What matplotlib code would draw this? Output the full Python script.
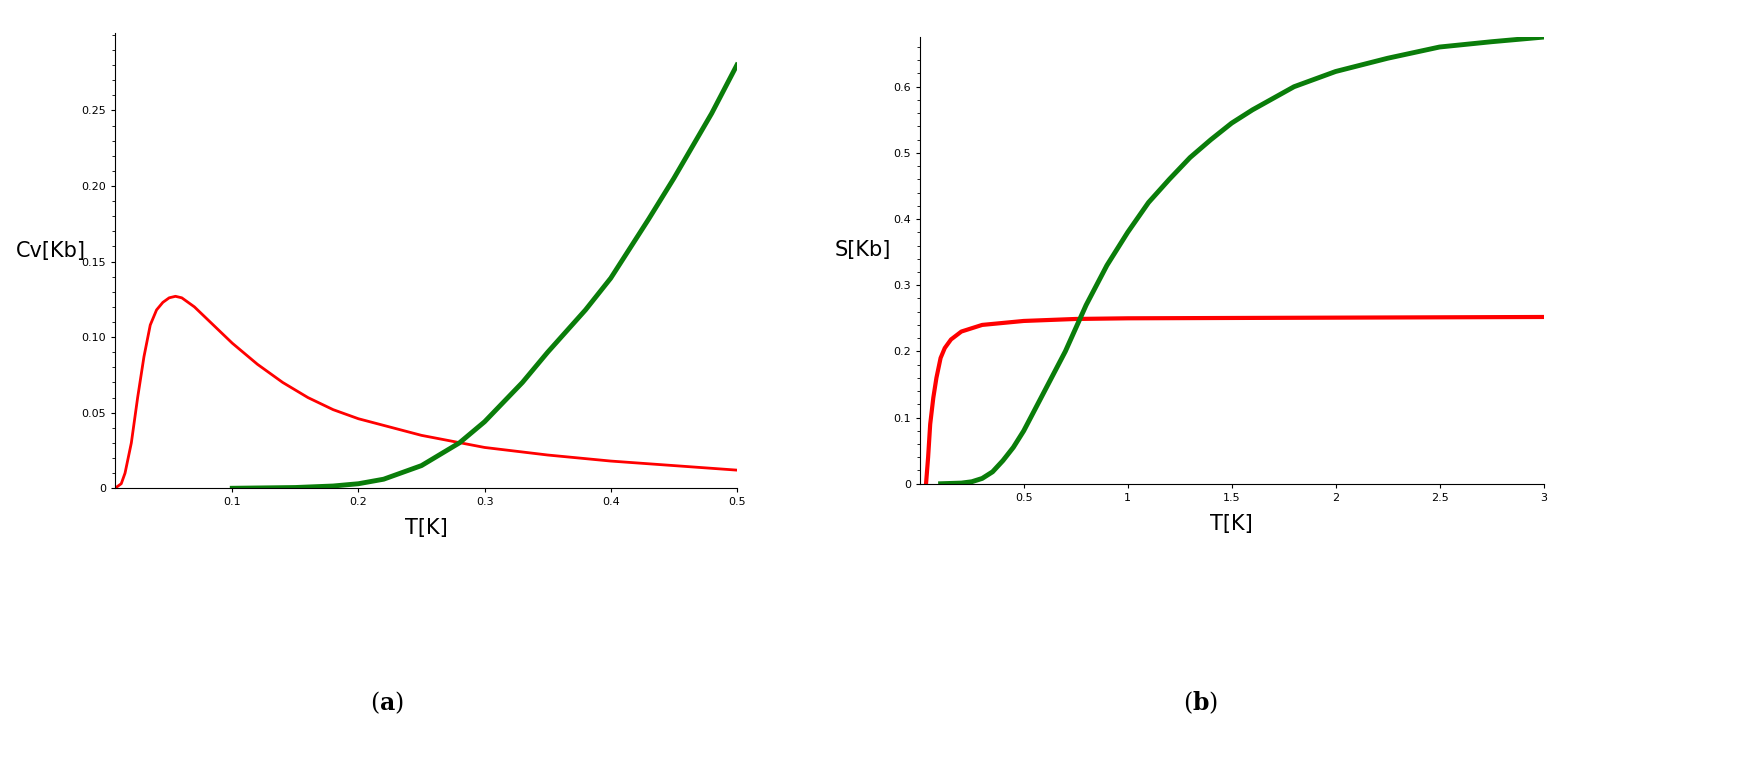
import matplotlib
matplotlib.use("Agg")
import matplotlib.pyplot as plt
from matplotlib.ticker import AutoMinorLocator
plt.rcParams['mathtext.fontset'] = 'dejavuserif'

cv_red_T = [0.007,0.012,0.015,0.02,0.025,0.03,0.035,0.04,0.045,0.05,0.055,0.06,0.07,0.08,0.1,0.12,0.14,0.16,0.18,0.2,0.25,0.3,0.35,0.4,0.45,0.5]
cv_red = [0,0.003,0.01,0.03,0.06,0.087,0.108,0.118,0.123,0.126,0.127,0.126,0.12,0.112,0.096,0.082,0.07,0.06,0.052,0.046,0.035,0.027,0.022,0.018,0.015,0.012]
cv_grn_T = [0.1,0.15,0.18,0.2,0.22,0.25,0.28,0.3,0.33,0.35,0.38,0.4,0.43,0.45,0.48,0.5]
cv_grn = [0,0.0005,0.0015,0.003,0.006,0.015,0.03,0.044,0.07,0.09,0.118,0.139,0.178,0.205,0.248,0.28]
s_red_T = [0.03,0.04,0.05,0.065,0.08,0.1,0.12,0.15,0.2,0.3,0.5,0.75,1,2,3]
s_red = [0,0.04,0.09,0.13,0.16,0.19,0.205,0.218,0.23,0.24,0.246,0.249,0.25,0.251,0.252]
s_grn_T = [0.1,0.2,0.25,0.3,0.35,0.4,0.45,0.5,0.6,0.7,0.8,0.9,1,1.1,1.2,1.3,1.4,1.5,1.6,1.8,2,2.25,2.5,2.75,3]
s_grn = [0,0.001,0.003,0.008,0.018,0.035,0.055,0.08,0.14,0.2,0.27,0.33,0.38,0.425,0.46,0.493,0.52,0.545,0.565,0.6,0.623,0.643,0.66,0.668,0.675]

fig = plt.figure(figsize=(17.52,7.57), dpi=100)
RED, GRN = '#ff0000', '#0a7d0a'

def style(ax):
    for s in ['top','right']:
        ax.spines[s].set_visible(False)
    ax.tick_params(labelsize=8, direction='out', length=3)
    ax.yaxis.set_minor_locator(AutoMinorLocator(5))
    ax.tick_params(which='minor', length=2)

ax1 = fig.add_axes([0.0656,0.355,0.355,0.601])
ax1.plot(cv_red_T, cv_red, color=RED, lw=2)
ax1.plot(cv_grn_T, cv_grn, color=GRN, lw=3.5)
ax1.set_xlim(0.007,0.5); ax1.set_ylim(0,0.301)
ax1.set_xticks([0.1,0.2,0.3,0.4,0.5]); ax1.set_xticklabels(['0.1','0.2','0.3','0.4','0.5'])
ax1.set_yticks([0,0.05,0.1,0.15,0.2,0.25]); ax1.set_yticklabels(['0','0.05','0.10','0.15','0.20','0.25'])
style(ax1)
ax1.set_xlabel('T[K]', fontsize=15, labelpad=8)
ax1.set_ylabel('Cv[Kb]', fontsize=15, rotation=0, labelpad=22)

ax2 = fig.add_axes([0.525,0.361,0.356,0.590])
ax2.plot(s_red_T, s_red, color=RED, lw=3)
ax2.plot(s_grn_T, s_grn, color=GRN, lw=3.5)
ax2.set_xlim(0,3); ax2.set_ylim(0,0.675)
ax2.set_xticks([0.5,1,1.5,2,2.5,3]); ax2.set_xticklabels(['0.5','1','1.5','2','2.5','3'])
ax2.set_yticks([0,0.1,0.2,0.3,0.4,0.5,0.6]); ax2.set_yticklabels(['0','0.1','0.2','0.3','0.4','0.5','0.6'])
style(ax2)
ax2.set_xlabel('T[K]', fontsize=15, labelpad=8)
ax2.set_ylabel('S[Kb]', fontsize=15, rotation=0, labelpad=22)

fig.text(0.221,0.062,r'$(\mathbf{a})$', fontsize=17, ha='center')
fig.text(0.685,0.062,r'$(\mathbf{b})$', fontsize=17, ha='center')
fig.savefig('out.png', dpi=100)
